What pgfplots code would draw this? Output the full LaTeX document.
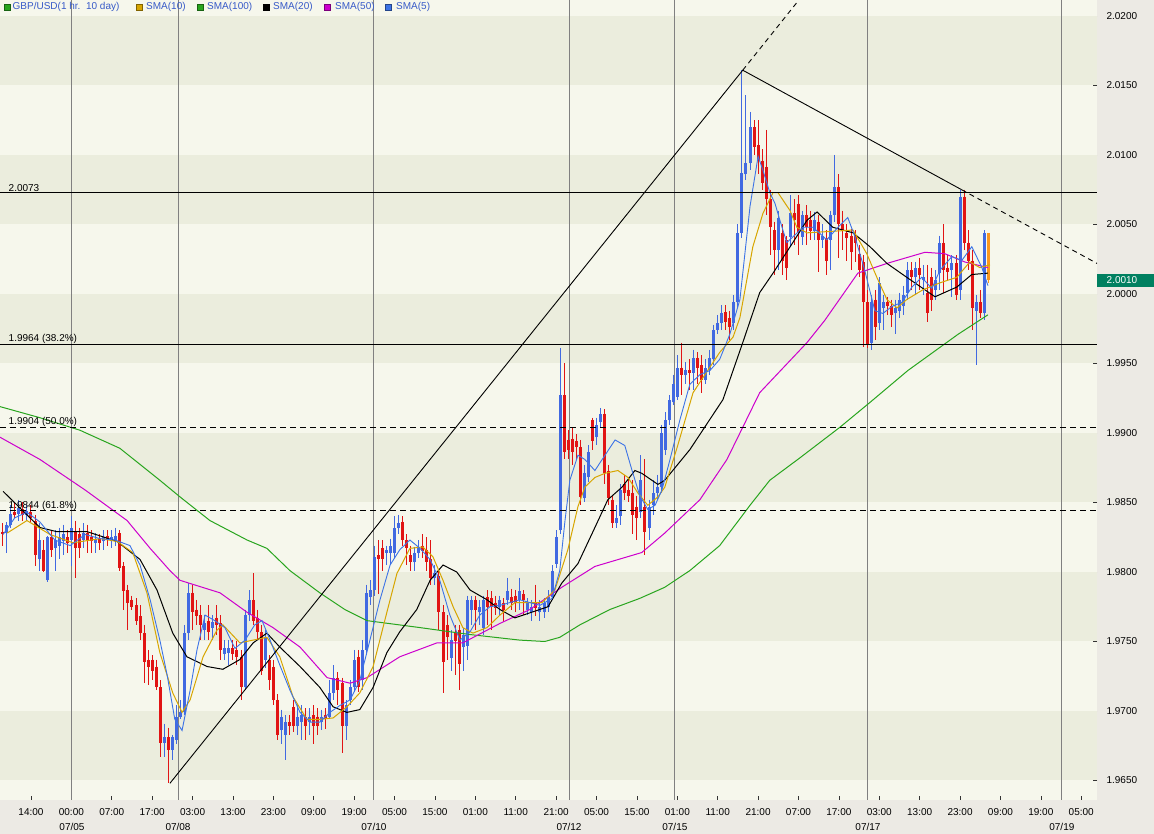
\documentclass[border=0pt]{standalone}
\usepackage{pgfplots}
\pgfplotsset{compat=1.18}
\usepackage{pgfplotstable}
\usepackage{fontspec}
\setmainfont{Liberation Sans}

\definecolor{upc}{RGB}{65,105,225}
\definecolor{dnc}{RGB}{225,20,20}
\definecolor{smafive}{RGB}{60,115,230}
\definecolor{smaten}{RGB}{215,165,0}
\definecolor{smahund}{RGB}{40,165,30}
\definecolor{smafifty}{RGB}{205,0,205}
\definecolor{lastc}{RGB}{250,150,30}
\definecolor{bandA}{RGB}{246,247,236}
\definecolor{bandB}{RGB}{235,237,221}
\definecolor{panel}{RGB}{236,234,228}
\definecolor{tagc}{RGB}{0,128,96}
\definecolor{legtext}{RGB}{55,90,200}
\definecolor{dayline}{RGB}{128,128,128}

% hourly candles, i = bar index (0 = 14:00 tick)
\pgfplotstableread{
i o h l c
-6 1.9828 1.9836 1.9814 1.9834
-5 1.9834 1.9848 1.9832 1.9842
-3 1.9842 1.9852 1.9837 1.9846
-1 1.9841 1.9848 1.9837 1.9844
2 1.9809 1.9835 1.9801 1.9823
4 1.9794 1.9826 1.9793 1.9825
6 1.9817 1.9830 1.9801 1.9823
7 1.9819 1.9832 1.9809 1.9825
8 1.9822 1.9834 1.9812 1.9827
10 1.9823 1.9840 1.9804 1.9832
13 1.9823 1.9835 1.9817 1.9828
16 1.9821 1.9828 1.9814 1.9824
18 1.9822 1.9830 1.9816 1.9825
20 1.9822 1.9830 1.9817 1.9825
21 1.9823 1.9832 1.9819 1.9826
33 1.9677 1.9691 1.9667 1.9681
35 1.9672 1.9683 1.9665 1.9681
36 1.9679 1.9704 1.9676 1.9696
37 1.9696 1.9708 1.9694 1.9699
38 1.9699 1.9762 1.9697 1.9756
39 1.9756 1.9792 1.9751 1.9785
43 1.9758 1.9769 1.9751 1.9763
45 1.9760 1.9769 1.9751 1.9764
48 1.9741 1.9751 1.9737 1.9745
49 1.9742 1.9751 1.9733 1.9745
53 1.9717 1.9773 1.9715 1.9769
54 1.9769 1.9787 1.9765 1.9780
58 1.9737 1.9758 1.9731 1.9753
62 1.9686 1.9701 1.9676 1.9696
63 1.9683 1.9697 1.9665 1.9692
66 1.9689 1.9704 1.9683 1.9696
67 1.9692 1.9704 1.9679 1.9697
69 1.9692 1.9702 1.9683 1.9696
72 1.9692 1.9701 1.9686 1.9696
74 1.9696 1.9722 1.9694 1.9713
75 1.9713 1.9733 1.9708 1.9724
78 1.9689 1.9708 1.9679 1.9704
79 1.9708 1.9722 1.9704 1.9717
80 1.9717 1.9744 1.9714 1.9737
82 1.9722 1.9751 1.9715 1.9744
83 1.9744 1.9791 1.9740 1.9785
84 1.9782 1.9794 1.9776 1.9787
85 1.9787 1.9819 1.9783 1.9811
88 1.9814 1.9819 1.9805 1.9816
89 1.9814 1.9824 1.9805 1.9819
90 1.9814 1.9840 1.9810 1.9832
91 1.9832 1.9841 1.9827 1.9835
95 1.9807 1.9818 1.9801 1.9814
96 1.9814 1.9823 1.9810 1.9817
100 1.9796 1.9805 1.9791 1.9799
104 1.9738 1.9758 1.9729 1.9751
107 1.9746 1.9760 1.9729 1.9755
108 1.9747 1.9783 1.9737 1.9780
109 1.9773 1.9783 1.9762 1.9780
111 1.9771 1.9780 1.9762 1.9775
112 1.9760 1.9783 1.9755 1.9780
116 1.9775 1.9783 1.9769 1.9780
118 1.9780 1.9796 1.9776 1.9786
121 1.9780 1.9796 1.9773 1.9786
123 1.9773 1.9781 1.9769 1.9778
124 1.9771 1.9780 1.9765 1.9775
126 1.9771 1.9780 1.9765 1.9775
127 1.9771 1.9781 1.9767 1.9778
128 1.9775 1.9787 1.9771 1.9782
129 1.9782 1.9805 1.9780 1.9801
130 1.9806 1.9830 1.9803 1.9825
131 1.9830 1.9961 1.9827 1.9927
137 1.9853 1.9877 1.9850 1.9871
138 1.9868 1.9891 1.9865 1.9886
140 1.9897 1.9911 1.9891 1.9906
141 1.9908 1.9918 1.9904 1.9914
145 1.9835 1.9848 1.9832 1.9839
146 1.9840 1.9863 1.9834 1.9859
151 1.9843 1.9884 1.9839 1.9866
153 1.9832 1.9852 1.9823 1.9847
154 1.9848 1.9866 1.9841 1.9857
155 1.9857 1.9870 1.9852 1.9861
156 1.9861 1.9906 1.9857 1.9900
157 1.9888 1.9915 1.9884 1.9909
158 1.9909 1.9927 1.9906 1.9924
159 1.9922 1.9942 1.9920 1.9935
160 1.9926 1.9956 1.9924 1.9947
162 1.9942 1.9951 1.9935 1.9945
164 1.9943 1.9960 1.9931 1.9954
167 1.9938 1.9953 1.9935 1.9947
168 1.9945 1.9960 1.9942 1.9954
169 1.9953 1.9978 1.9949 1.9974
170 1.9974 1.9985 1.9971 1.9979
171 1.9979 1.9992 1.9974 1.9986
174 1.9979 1.9999 1.9974 1.9994
175 1.9994 2.0050 1.9990 2.0044
176 2.0044 2.0161 2.0040 2.0087
177 2.0086 2.0143 2.0082 2.0094
178 2.0094 2.0131 2.0089 2.0120
185 2.0032 2.0060 2.0017 2.0055
188 2.0041 2.0071 2.0034 2.0058
191 2.0041 2.0060 2.0035 2.0057
194 2.0045 2.0059 2.0039 2.0053
196 2.0039 2.0050 2.0033 2.0042
198 2.0039 2.0060 2.0017 2.0057
199 2.0057 2.0100 2.0052 2.0077
208 1.9965 1.9999 1.9960 1.9994
210 1.9979 2.0012 1.9974 2.0008
211 1.9990 1.9999 1.9974 1.9994
214 1.9986 1.9996 1.9971 1.9990
215 1.9988 2.0001 1.9983 1.9996
216 1.9991 2.0006 1.9985 1.9999
217 2.0001 2.0023 1.9996 2.0017
219 2.0012 2.0023 1.9999 2.0019
221 2.0010 2.0021 1.9999 2.0012
224 2.0003 2.0017 1.9996 2.0010
225 2.0015 2.0042 2.0003 2.0037
228 2.0017 2.0028 1.9998 2.0022
230 2.0003 2.0075 1.9996 2.0070
234 1.9988 1.9999 1.9949 1.9994
236 1.9986 2.0046 1.9981 2.0044
}\upbars

\pgfplotstableread{
i o h l c
-7 1.9829 1.9835 1.9819 1.9827
-4 1.9843 1.9850 1.9839 1.9841
-2 1.9845 1.9850 1.9837 1.9841
0 1.9843 1.9848 1.9836 1.9839
1 1.9837 1.9841 1.9804 1.9812
3 1.9816 1.9823 1.9800 1.9801
5 1.9825 1.9830 1.9811 1.9816
9 1.9825 1.9830 1.9814 1.9821
11 1.9829 1.9837 1.9796 1.9817
12 1.9827 1.9832 1.9810 1.9817
14 1.9828 1.9834 1.9814 1.9823
15 1.9825 1.9830 1.9814 1.9822
17 1.9824 1.9827 1.9816 1.9821
19 1.9826 1.9830 1.9819 1.9823
22 1.9828 1.9830 1.9801 1.9803
23 1.9804 1.9807 1.9773 1.9786
24 1.9787 1.9791 1.9758 1.9778
25 1.9780 1.9783 1.9773 1.9775
26 1.9776 1.9781 1.9762 1.9765
27 1.9768 1.9776 1.9751 1.9756
28 1.9756 1.9762 1.9720 1.9735
29 1.9737 1.9744 1.9719 1.9732
30 1.9737 1.9740 1.9722 1.9729
31 1.9732 1.9737 1.9715 1.9717
32 1.9717 1.9722 1.9667 1.9677
34 1.9681 1.9688 1.9648 1.9672
40 1.9785 1.9791 1.9758 1.9771
41 1.9773 1.9780 1.9762 1.9768
42 1.9769 1.9776 1.9751 1.9762
44 1.9765 1.9776 1.9751 1.9757
46 1.9767 1.9776 1.9755 1.9762
47 1.9763 1.9769 1.9737 1.9744
50 1.9745 1.9751 1.9737 1.9741
51 1.9744 1.9750 1.9733 1.9739
52 1.9739 1.9744 1.9708 1.9717
55 1.9780 1.9799 1.9762 1.9765
56 1.9767 1.9773 1.9751 1.9757
57 1.9757 1.9762 1.9726 1.9729
59 1.9737 1.9740 1.9715 1.9722
60 1.9732 1.9737 1.9704 1.9708
61 1.9708 1.9712 1.9679 1.9683
64 1.9692 1.9697 1.9683 1.9689
65 1.9703 1.9708 1.9685 1.9689
68 1.9696 1.9702 1.9679 1.9689
70 1.9697 1.9704 1.9676 1.9689
71 1.9696 1.9702 1.9683 1.9689
73 1.9697 1.9702 1.9687 1.9694
76 1.9724 1.9728 1.9704 1.9715
77 1.9720 1.9724 1.9670 1.9689
81 1.9739 1.9744 1.9714 1.9717
86 1.9812 1.9823 1.9784 1.9809
87 1.9817 1.9823 1.9801 1.9809
92 1.9836 1.9840 1.9819 1.9823
93 1.9823 1.9827 1.9805 1.9817
94 1.9812 1.9819 1.9801 1.9807
97 1.9819 1.9827 1.9810 1.9815
98 1.9816 1.9825 1.9801 1.9807
99 1.9809 1.9823 1.9791 1.9796
101 1.9797 1.9801 1.9758 1.9771
102 1.9771 1.9776 1.9713 1.9735
103 1.9762 1.9769 1.9737 1.9753
105 1.9757 1.9762 1.9726 1.9750
106 1.9758 1.9762 1.9715 1.9734
110 1.9780 1.9783 1.9758 1.9773
113 1.9782 1.9787 1.9762 1.9775
114 1.9781 1.9786 1.9758 1.9775
115 1.9778 1.9783 1.9769 1.9774
117 1.9778 1.9781 1.9764 1.9773
119 1.9782 1.9788 1.9773 1.9778
120 1.9783 1.9787 1.9771 1.9778
122 1.9784 1.9787 1.9769 1.9780
125 1.9778 1.9791 1.9768 1.9774
132 1.9927 1.9950 1.9881 1.9886
133 1.9895 1.9902 1.9881 1.9888
134 1.9896 1.9904 1.9877 1.9886
135 1.9894 1.9899 1.9881 1.9890
136 1.9890 1.9895 1.9848 1.9854
139 1.9909 1.9911 1.9888 1.9894
142 1.9914 1.9917 1.9863 1.9871
143 1.9873 1.9877 1.9848 1.9853
144 1.9852 1.9855 1.9832 1.9835
147 1.9863 1.9870 1.9852 1.9857
148 1.9859 1.9868 1.9850 1.9855
149 1.9857 1.9866 1.9827 1.9841
150 1.9847 1.9855 1.9823 1.9839
152 1.9847 1.9881 1.9812 1.9829
161 1.9947 1.9965 1.9927 1.9942
163 1.9945 1.9953 1.9931 1.9943
165 1.9954 1.9958 1.9935 1.9947
166 1.9949 1.9956 1.9929 1.9938
172 1.9987 1.9992 1.9974 1.9980
173 1.9983 1.9988 1.9967 1.9976
179 2.0120 2.0125 2.0100 2.0106
180 2.0107 2.0125 2.0086 2.0096
181 2.0096 2.0104 2.0075 2.0080
182 2.0091 2.0118 2.0057 2.0068
183 2.0068 2.0075 2.0028 2.0048
184 2.0046 2.0052 2.0014 2.0032
186 2.0044 2.0050 2.0014 2.0024
187 2.0039 2.0042 2.0010 2.0019
189 2.0058 2.0068 2.0035 2.0053
190 2.0065 2.0071 2.0028 2.0044
192 2.0057 2.0064 2.0035 2.0048
193 2.0053 2.0060 2.0039 2.0045
195 2.0052 2.0057 2.0016 2.0039
197 2.0040 2.0046 2.0014 2.0024
200 2.0077 2.0086 2.0026 2.0050
201 2.0050 2.0060 2.0032 2.0045
202 2.0044 2.0050 2.0024 2.0040
203 2.0042 2.0047 2.0017 2.0030
204 2.0042 2.0046 2.0023 2.0037
205 2.0029 2.0035 2.0012 2.0017
206 2.0023 2.0028 1.9962 1.9994
207 1.9994 2.0003 1.9961 1.9963
209 1.9996 2.0003 1.9967 1.9976
212 1.9994 1.9998 1.9985 1.9991
213 1.9991 1.9996 1.9976 1.9985
218 2.0017 2.0023 2.0003 2.0012
220 2.0019 2.0026 2.0003 2.0014
222 2.0001 2.0021 1.9980 1.9986
223 2.0012 2.0019 1.9988 1.9996
226 2.0037 2.0050 2.0001 2.0017
227 2.0019 2.0028 2.0010 2.0016
229 2.0022 2.0028 1.9996 1.9999
231 2.0070 2.0075 2.0032 2.0037
232 2.0037 2.0046 2.0017 2.0024
233 2.0024 2.0032 1.9974 1.9990
235 1.9994 2.0003 1.9983 1.9986
}\downbars

\pgfplotstableread{
i o h l c
237 2.0044 2.0044 2.0008 2.0010
}\lastbar

% one wick and one body per table row
\newcommand\drawcandles[3]{%
  \pgfplotstablegetrowsof{#1}%
  \pgfmathtruncatemacro\lastrow{\pgfplotsretval-1}%
  \pgfplotsforeachungrouped \r in {0,...,\lastrow}{%
    \pgfplotstablegetelem{\r}{i}\of#1\let\ci\pgfplotsretval
    \pgfplotstablegetelem{\r}{o}\of#1\let\co\pgfplotsretval
    \pgfplotstablegetelem{\r}{h}\of#1\let\ch\pgfplotsretval
    \pgfplotstablegetelem{\r}{l}\of#1\let\cl\pgfplotsretval
    \pgfplotstablegetelem{\r}{c}\of#1\let\cc\pgfplotsretval
    \edef\tmp{\noexpand\addplot[#2, line width=1pt, forget plot] coordinates {(\ci,\ch) (\ci,\cl)};
      \noexpand\addplot[#2, line width=#3, forget plot] coordinates {(\ci,\co) (\ci,\cc)};}%
    \tmp
  }%
}

\begin{document}
\begin{tikzpicture}[x=1pt,y=1pt]
\fill[panel] (0,-34) rectangle (1154,800);
\begin{axis}[
  at={(0,0)}, anchor=south west,
  width=1097pt, height=800pt, scale only axis,
  xmin=-7.67, xmax=263.9,
  ymin=1.963597, ymax=2.021151,
  clip=false,
  axis line style={draw=none},
  axis background/.style={fill=bandA},
  tick align=inside,
  major tick length=4pt,
  tick style={black!80, line width=0.7pt},
  xtick={0,10,...,260},
  xticklabels={14:00,00:00,07:00,17:00,03:00,13:00,23:00,09:00,19:00,05:00,15:00,01:00,11:00,21:00,05:00,15:00,01:00,11:00,21:00,07:00,17:00,03:00,13:00,23:00,09:00,19:00,05:00},
  xtick pos=bottom,
  xticklabel style={font=\fontsize{10}{12}\selectfont, yshift=-4.5pt},
  ytick={1.965,1.970,1.975,1.980,1.985,1.990,1.995,2.000,2.005,2.010,2.015,2.020},
  ytick pos=right, yticklabel pos=right,
  yticklabel style={font=\fontsize{10}{12}\selectfont, anchor=west, xshift=6pt,
    /pgf/number format/fixed, /pgf/number format/fixed zerofill,
    /pgf/number format/precision=4, /pgf/number format/assume math mode=true},
]
% background bands
\fill[bandB] (axis cs:-7.67,2.015) rectangle (axis cs:263.9,2.020);
\fill[bandB] (axis cs:-7.67,2.005) rectangle (axis cs:263.9,2.010);
\fill[bandB] (axis cs:-7.67,1.995) rectangle (axis cs:263.9,2.000);
\fill[bandB] (axis cs:-7.67,1.985) rectangle (axis cs:263.9,1.990);
\fill[bandB] (axis cs:-7.67,1.975) rectangle (axis cs:263.9,1.980);
\fill[bandB] (axis cs:-7.67,1.965) rectangle (axis cs:263.9,1.970);
% day separators
\pgfplotsinvokeforeach{10.15,36.4,84.9,133.2,159.4,207.2,255.2}{
  \draw[dayline, line width=1pt] (axis cs:#1,1.963597) -- (axis cs:#1,2.021151);
}

% candles
\drawcandles{\upbars}{upc}{3pt}
\drawcandles{\downbars}{dnc}{3pt}
\drawcandles{\lastbar}{lastc}{3pt}

% moving averages
\addplot[smahund, line width=1pt] coordinates {
(-7.7,1.9919)(2.2,1.9911)(12.1,1.9902)(22.0,1.9889)(31.9,1.9866)(36.9,1.9854)(44.3,1.9837)(53.5,1.9823)(58.4,1.9817)(64.1,1.9801)(71.5,1.9785)(77.7,1.9773)(83.2,1.9765)(96.3,1.9760)(108.7,1.9755)(121.0,1.9751)(127.2,1.9750)(130.9,1.9753)(135.9,1.9762)(143.3,1.9773)(150.7,1.9781)(156.9,1.9789)(163.1,1.9801)(170.5,1.9819)(178.0,1.9848)(182.9,1.9866)(190.3,1.9882)(200.2,1.9904)(207.7,1.9922)(217.1,1.9945)(229.5,1.9971)(236.9,1.9985)};
\addplot[smafifty, line width=1pt] coordinates {
(-7.7,1.9897)(2.2,1.9881)(13.4,1.9859)(23.8,1.9837)(29.5,1.9817)(34.4,1.9801)(36.9,1.9794)(46.8,1.9785)(53.5,1.9771)(59.9,1.9760)(66.6,1.9746)(73.3,1.9724)(79.0,1.9720)(83.2,1.9724)(91.3,1.9739)(100.5,1.9749)(106.9,1.9749)(116.1,1.9763)(123.5,1.9773)(131.4,1.9789)(139.6,1.9804)(151.2,1.9814)(156.9,1.9828)(165.6,1.9852)(172.3,1.9881)(180.4,1.9929)(192.1,1.9965)(196.5,1.9981)(204.7,2.0015)(211.9,2.0022)(221.3,2.0030)(226.2,2.0029)(231.2,2.0023)(236.9,2.0019)};
\addplot[black, line width=1pt] coordinates {
(-6.9,1.9858)(2.2,1.9832)(6.4,1.9829)(13.9,1.9829)(21.3,1.9822)(27.0,1.9809)(31.2,1.9787)(35.1,1.9756)(38.6,1.9739)(43.6,1.9732)(47.5,1.9730)(51.7,1.9737)(55.0,1.9749)(58.4,1.9756)(61.6,1.9746)(66.6,1.9732)(71.5,1.9717)(74.8,1.9703)(78.2,1.9699)(81.4,1.9701)(84.7,1.9717)(88.1,1.9742)(91.3,1.9757)(95.5,1.9773)(98.8,1.9794)(102.0,1.9805)(105.4,1.9800)(108.7,1.9787)(112.9,1.9780)(116.1,1.9773)(119.8,1.9767)(128.0,1.9775)(131.4,1.9792)(135.4,1.9806)(139.6,1.9832)(142.8,1.9852)(146.3,1.9861)(149.5,1.9873)(151.2,1.9871)(155.2,1.9863)(156.9,1.9866)(163.1,1.9888)(171.3,1.9924)(176.2,1.9965)(180.4,2.0001)(183.7,2.0015)(188.6,2.0037)(192.1,2.0053)(194.6,2.0059)(198.5,2.0048)(203.5,2.0044)(207.7,2.0034)(211.9,2.0022)(216.8,2.0012)(223.8,1.9998)(229.2,2.0005)(232.9,2.0014)(236.9,2.0015)};
\addplot[smaten, line width=1pt] coordinates {
(-5.9,1.9828)(-1.0,1.9837)(4.7,1.9827)(10.4,1.9821)(17.1,1.9824)(21.3,1.9822)(25.2,1.9814)(28.7,1.9785)(31.9,1.9742)(35.1,1.9713)(37.4,1.9699)(39.4,1.9708)(42.6,1.9739)(46.0,1.9758)(47.5,1.9762)(51.7,1.9749)(55.0,1.9751)(58.4,1.9753)(61.6,1.9739)(64.9,1.9710)(68.3,1.9694)(71.5,1.9694)(74.8,1.9695)(78.2,1.9703)(81.4,1.9713)(84.7,1.9732)(88.1,1.9771)(90.6,1.9799)(93.8,1.9817)(97.0,1.9818)(99.5,1.9811)(102.0,1.9794)(104.5,1.9775)(106.9,1.9760)(109.4,1.9756)(112.9,1.9760)(116.1,1.9769)(119.8,1.9778)(126.5,1.9778)(129.7,1.9787)(132.9,1.9816)(135.4,1.9847)(137.1,1.9861)(139.6,1.9868)(142.1,1.9871)(145.3,1.9873)(147.8,1.9868)(150.2,1.9857)(152.7,1.9848)(155.2,1.9854)(156.9,1.9861)(160.0,1.9890)(163.9,1.9929)(170.5,1.9958)(173.8,1.9969)(175.5,1.9983)(178.7,2.0034)(181.2,2.0058)(183.7,2.0073)(184.9,2.0073)(187.9,2.0060)(189.6,2.0048)(192.1,2.0044)(197.8,2.0045)(203.5,2.0046)(206.9,2.0029)(209.4,2.0012)(211.9,1.9996)(214.4,1.9990)(216.8,1.9996)(220.8,2.0003)(225.0,2.0008)(229.2,2.0012)(232.4,2.0023)(234.9,2.0019)(237.4,2.0021)};
\addplot[smafive, line width=0.9pt] coordinates {
(-6.9,1.9827)(-4.0,1.9839)(-1.0,1.9843)(2.2,1.9836)(5.9,1.9823)(9.7,1.9819)(13.4,1.9827)(17.1,1.9824)(20.8,1.9823)(24.5,1.9819)(27.0,1.9805)(29.5,1.9780)(31.9,1.9751)(33.7,1.9726)(35.6,1.9694)(37.4,1.9686)(39.4,1.9715)(41.1,1.9744)(43.1,1.9769)(45.5,1.9765)(48.0,1.9760)(50.5,1.9745)(53.0,1.9751)(55.4,1.9762)(57.2,1.9765)(59.2,1.9751)(61.6,1.9733)(64.1,1.9715)(66.6,1.9699)(69.1,1.9692)(71.5,1.9692)(74.0,1.9699)(76.5,1.9704)(79.0,1.9708)(81.4,1.9722)(83.9,1.9751)(86.4,1.9780)(88.9,1.9805)(91.3,1.9816)(93.8,1.9823)(96.3,1.9817)(98.8,1.9809)(101.2,1.9794)(103.7,1.9769)(106.2,1.9751)(108.7,1.9757)(111.1,1.9769)(113.6,1.9775)(116.1,1.9776)(121.0,1.9780)(126.0,1.9776)(129.0,1.9781)(130.9,1.9801)(132.2,1.9837)(133.4,1.9866)(135.4,1.9884)(137.1,1.9881)(139.6,1.9873)(142.1,1.9884)(144.6,1.9895)(147.0,1.9891)(148.8,1.9873)(150.7,1.9855)(152.7,1.9845)(154.5,1.9848)(156.2,1.9859)(158.2,1.9881)(160.6,1.9909)(163.1,1.9935)(165.6,1.9942)(168.1,1.9945)(170.5,1.9953)(173.0,1.9971)(175.5,1.9996)(178.0,2.0063)(180.0,2.0099)(181.2,2.0089)(182.9,2.0073)(184.2,2.0065)(185.4,2.0053)(187.1,2.0037)(188.6,2.0041)(191.1,2.0048)(193.6,2.0048)(197.0,2.0039)(199.8,2.0048)(202.2,2.0055)(204.0,2.0041)(206.4,2.0017)(208.9,1.9988)(210.9,1.9986)(213.1,1.9991)(215.6,1.9994)(218.1,2.0005)(220.5,2.0012)(223.0,2.0004)(225.0,2.0017)(228.0,2.0027)(230.4,2.0024)(232.9,2.0034)(235.4,2.0019)(236.9,2.0006)};

% retracement levels
\addplot[black, line width=1pt] coordinates {(-7.67,2.0073) (263.9,2.0073)};
\addplot[black, line width=1pt] coordinates {(-7.67,1.9964) (263.9,1.9964)};
\addplot[black, line width=1pt, dash pattern=on 6pt off 4pt] coordinates {(-7.67,1.9904) (263.9,1.9904)};
\addplot[black, line width=1pt, dash pattern=on 6pt off 4pt] coordinates {(-7.67,1.9844) (263.9,1.9844)};
% trend lines
\addplot[black, line width=0.9pt] coordinates {(34.4,1.9648) (176.2,2.0161)};
\addplot[black, line width=0.9pt, dash pattern=on 5pt off 4pt] coordinates {(176.2,2.0161) (190.1,2.02115)};
\addplot[black, line width=0.9pt] coordinates {(176.2,2.0161) (230.4,2.0075)};
\addplot[black, line width=0.9pt, dash pattern=on 5pt off 4pt] coordinates {(230.4,2.0075) (263.9,2.0022)};

\begin{scope}[font=\fontsize{10}{12}\selectfont]
\node[anchor=south west, inner sep=0.5pt] at ([xshift=8pt]axis cs:-7.67,2.0073) {2.0073};
\node[anchor=south west, inner sep=0.5pt] at ([xshift=8pt]axis cs:-7.67,1.9964) {1.9964 (38.2\%)};
\node[anchor=south west, inner sep=0.5pt] at ([xshift=8pt]axis cs:-7.67,1.9904) {1.9904 (50.0\%)};
\node[anchor=south west, inner sep=0.5pt] at ([xshift=8pt]axis cs:-7.67,1.9844) {1.9844 (61.8\%)};
\end{scope}

% current price tag
\fill[tagc] ([yshift=6.5pt]axis cs:263.9,2.0010) rectangle ([xshift=57pt,yshift=-6.5pt]axis cs:263.9,2.0010);
\node[anchor=west, inner sep=0, text=white, font=\fontsize{10}{12}\selectfont] at ([xshift=9.5pt]axis cs:263.9,2.0010) {2.0010};

% date row
\begin{scope}[font=\fontsize{10}{12}\selectfont]
\node at ([yshift=-27pt]axis cs:10.15,1.963597) {07/05};
\node at ([yshift=-27pt]axis cs:36.4,1.963597) {07/08};
\node at ([yshift=-27pt]axis cs:84.9,1.963597) {07/10};
\node at ([yshift=-27pt]axis cs:133.2,1.963597) {07/12};
\node at ([yshift=-27pt]axis cs:159.4,1.963597) {07/15};
\node at ([yshift=-27pt]axis cs:207.2,1.963597) {07/17};
\node at ([yshift=-27pt]axis cs:255.2,1.963597) {07/19};
\end{scope}

% legend strip
\begin{scope}[font=\fontsize{10}{12}\selectfont]
\filldraw[fill=smahund, draw=smahund!60!black, line width=0.4pt] ([xshift=4pt,yshift=-4pt]rel axis cs:0,1) rectangle ([xshift=10pt,yshift=-10pt]rel axis cs:0,1);
\node[anchor=west, inner sep=0, text=legtext] at ([xshift=12.5pt,yshift=-7pt]rel axis cs:0,1) {GBP/USD(1 hr.\ \ 10 day)};
\filldraw[fill=smaten, draw=smaten!60!black, line width=0.4pt] ([xshift=136pt,yshift=-4pt]rel axis cs:0,1) rectangle ([xshift=142pt,yshift=-10pt]rel axis cs:0,1);
\node[anchor=west, inner sep=0, text=legtext] at ([xshift=146pt,yshift=-7pt]rel axis cs:0,1) {SMA(10)};
\filldraw[fill=smahund, draw=smahund!60!black, line width=0.4pt] ([xshift=197pt,yshift=-4pt]rel axis cs:0,1) rectangle ([xshift=203pt,yshift=-10pt]rel axis cs:0,1);
\node[anchor=west, inner sep=0, text=legtext] at ([xshift=207pt,yshift=-7pt]rel axis cs:0,1) {SMA(100)};
\filldraw[fill=black, draw=black, line width=0.4pt] ([xshift=263pt,yshift=-4pt]rel axis cs:0,1) rectangle ([xshift=269pt,yshift=-10pt]rel axis cs:0,1);
\node[anchor=west, inner sep=0, text=legtext] at ([xshift=273pt,yshift=-7pt]rel axis cs:0,1) {SMA(20)};
\filldraw[fill=smafifty, draw=smafifty!60!black, line width=0.4pt] ([xshift=324pt,yshift=-4pt]rel axis cs:0,1) rectangle ([xshift=330pt,yshift=-10pt]rel axis cs:0,1);
\node[anchor=west, inner sep=0, text=legtext] at ([xshift=335pt,yshift=-7pt]rel axis cs:0,1) {SMA(50)};
\filldraw[fill=smafive, draw=smafive!60!black, line width=0.4pt] ([xshift=385pt,yshift=-4pt]rel axis cs:0,1) rectangle ([xshift=391pt,yshift=-10pt]rel axis cs:0,1);
\node[anchor=west, inner sep=0, text=legtext] at ([xshift=396pt,yshift=-7pt]rel axis cs:0,1) {SMA(5)};
\end{scope}
\end{axis}
\pgfresetboundingbox
\useasboundingbox (0,-34) rectangle (1154,800);
\end{tikzpicture}
\end{document}
